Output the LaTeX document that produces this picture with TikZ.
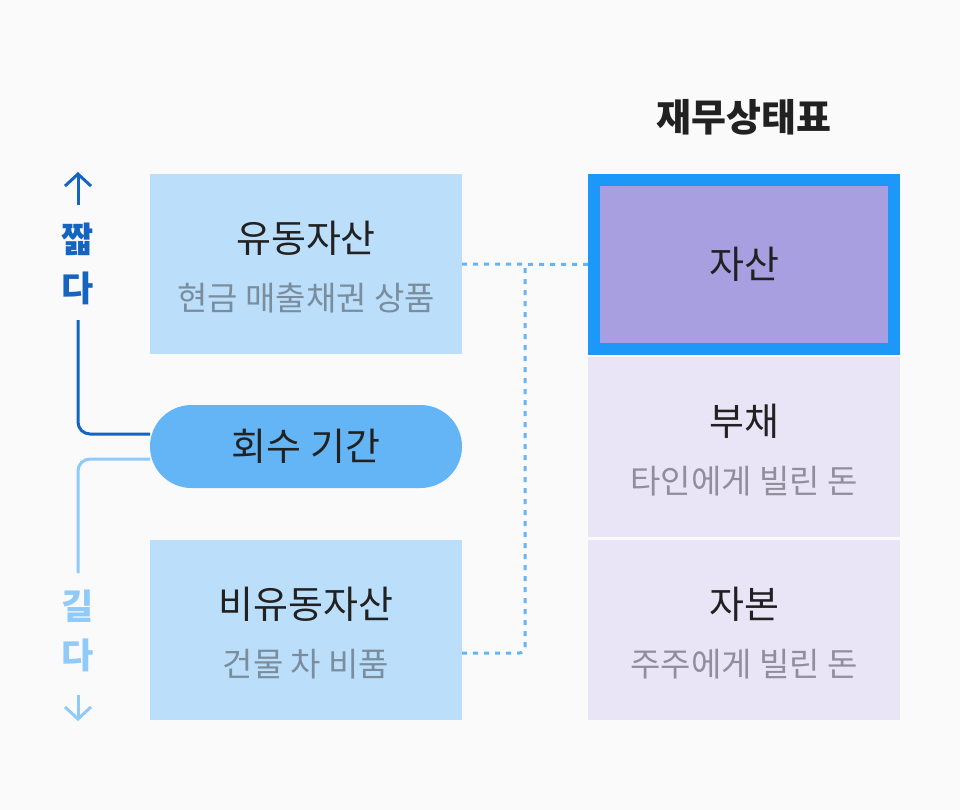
\documentclass[tikz,border=0pt]{standalone}
\usepackage{fontspec}
\setmainfont{Noto Sans CJK KR}
\usepackage{xcolor}
\usetikzlibrary{arrows.meta,positioning}

\definecolor{pagebg}{HTML}{FAFAFA}
\definecolor{boxblue}{HTML}{BBDEFB}
\definecolor{pillblue}{HTML}{64B5F6}
\definecolor{darkblue}{HTML}{1565C0}
\definecolor{lightblue}{HTML}{90CAF9}
\definecolor{edgeblue}{HTML}{1C98F8}
\definecolor{assetpurple}{HTML}{A89FE1}
\definecolor{palepurple}{HTML}{E9E5F7}
\definecolor{inkgray}{HTML}{212121}
\definecolor{subblue}{HTML}{7A8D9D}
\definecolor{subpurple}{HTML}{918D9B}

\newcommand{\subblue}{\fontsize{33}{58}\selectfont\color{subblue}}
\newcommand{\subpurple}{\fontsize{33}{58}\selectfont\color{subpurple}}
\newcommand{\topstrut}{\rule{0pt}{37pt}}

\tikzset{
  side box/.style={rectangle, fill=boxblue, inner sep=0pt, minimum width=312pt,
    minimum height=180pt, align=center, text=inkgray,
    font=\fontsize{38}{58}\selectfont},
  sheet box/.style={side box, fill=palepurple},
  period pill/.style={rectangle, rounded corners=41.5pt, fill=pillblue, inner sep=0pt,
    minimum width=312pt, minimum height=83pt, text=inkgray, font=\fontsize{38}{44}\selectfont},
  dotline/.style={pillblue, line width=3pt, dash pattern=on 5pt off 6pt, rounded corners=6pt},
  axis word/.style={align=center, font=\bfseries\fontsize{35}{49}\selectfont},
  axis line/.style={line width=3pt, rounded corners=12pt},
  axis tip/.style={line width=3pt, -{Straight Barb[length=12pt,width=26pt,line width=3pt]}}
}

\begin{document}
\begin{tikzpicture}[x=1pt,y=-1pt]
% page
\fill[pagebg] (0,0) rectangle (960,810);
\useasboundingbox (0,0) rectangle (960,810);

% left column
\node[side box] (current) at (306,264) {\topstrut 유동자산\\{\subblue 현금 매출채권 상품}};
\node[side box] (noncurrent) at (306,630) {\topstrut 비유동자산\\{\subblue 건물 차 비품}};

% short / long scale
\node[axis word, text=darkblue] (short) at (78,264) {짧\\다};
\node[axis word, text=lightblue] (long) at (78,631) {길\\다};
\draw[axis line, darkblue] ([yshift=-56pt]short.center) |- (150,434);
\draw[axis line, lightblue] (150,459) -| ([yshift=58pt]long.center);
\draw[axis tip, darkblue] ([yshift=59pt]short.center) -- ++(0,-33);
\draw[axis tip, lightblue] ([yshift=-64pt]long.center) -- ++(0,26);

\node[period pill] (period) at (306,446.5) {회수 기간};

% statement of financial position
\node[font=\bfseries\fontsize{38}{44}\selectfont, text=inkgray] (title) at (744,117.5) {재무상태표};
\node[sheet box, fill=assetpurple, draw=edgeblue, line width=12pt,
  minimum width=300pt, minimum height=168pt] (asset) at (744,264.5) {자산};
\node[sheet box] (liability) at (744,447) {\topstrut 부채\\{\subpurple 타인에게 빌린 돈}};
\node[sheet box] (equity) at (744,630) {\topstrut 자본\\{\subpurple 주주에게 빌린 돈}};

% dotted links
\coordinate (split) at (525,264);
\draw[dotline] (current.east) -- (asset.west);
\draw[dotline] ([yshift=-23pt]noncurrent.east) -| (split);
\end{tikzpicture}
\end{document}
